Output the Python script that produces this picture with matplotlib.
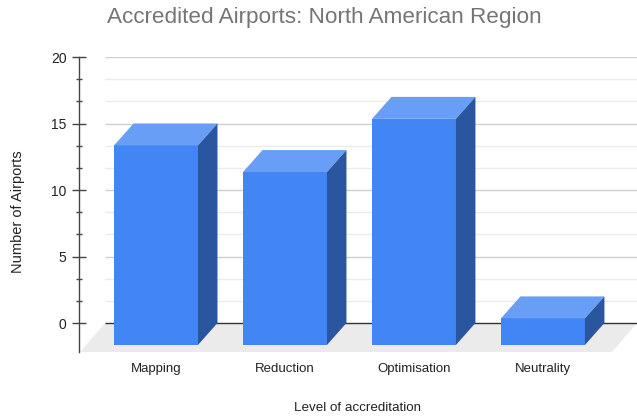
import matplotlib
matplotlib.use("Agg")
import matplotlib.pyplot as plt
from matplotlib.patches import Polygon, Rectangle
from matplotlib.ticker import FixedLocator
import numpy as np

plt.rcParams['font.family'] = ['Liberation Sans', 'DejaVu Sans']

# Data
categories = ["Mapping", "Reduction", "Optimisation", "Neutrality"]
airports = [15, 13, 17, 2]

title = "Accredited Airports: North American Region"
xlabel = "Level of accreditation"
ylabel = "Number of Airports"

# Pseudo-3D geometry (category units horizontally, value units vertically)
bar_w = 0.651          # width of the front face
bar_dx = 0.151         # horizontal depth of a bar
bar_dy = 1.65          # vertical depth of a bar
floor_dx = 0.194       # horizontal depth of the floor
floor_dy = 2.18        # vertical depth of the floor
x_lo, x_hi = -0.597, 3.729
y_lo, y_hi = -2.18, 20

FRONT = "#4285F4"
TOP = "#689EF6"
SIDE = "#2A56A0"

fig = plt.figure(figsize=(6.37, 4.20), dpi=100)
ax = fig.add_axes([79 / 637, 1 - 352 / 420, 1 - 79 / 637, (352 - 57) / 420])
ax.set_xlim(x_lo, x_hi)
ax.set_ylim(y_lo, y_hi)

# Floor
floor = Polygon([(x_lo + 0.008, y_lo), (x_lo + 0.008 + floor_dx, 0),
                 (x_hi, 0), (x_hi - floor_dx, y_lo)],
                closed=True, facecolor="#EBEBEB", edgecolor="none", zorder=1)
ax.add_patch(floor)

# Back-wall gridlines
back_x0 = x_lo + 0.008 + floor_dx
minor_vals = np.arange(0, 20.01, 5 / 3)
for v in minor_vals:
    major = abs(v / 5 - round(v / 5)) < 1e-6
    if abs(v) < 1e-6:
        continue
    ax.hlines(v, back_x0, x_hi, colors="#D0D0D0" if major else "#EBEBEB",
              linewidth=1.0, zorder=0.5)
ax.hlines(0, back_x0, x_hi, colors="#333333", linewidth=1.0, zorder=1.5)

# Bars
for i, v in enumerate(airports):
    fl, fr = i - bar_w / 2, i + bar_w / 2
    fb, ft = -bar_dy, v - bar_dy
    front = Rectangle((fl, fb), bar_w, v, facecolor=FRONT, edgecolor="none", zorder=3)
    top = Polygon([(fl, ft), (fr, ft), (fr + bar_dx, v), (fl + bar_dx, v)],
                  closed=True, facecolor=TOP, edgecolor="none", zorder=3)
    side = Polygon([(fr, ft), (fr + bar_dx, v), (fr + bar_dx, 0), (fr, fb)],
                   closed=True, facecolor=SIDE, edgecolor="none", zorder=3)
    for p in (front, top, side):
        ax.add_patch(p)

# Axes styling
for s in ("top", "right", "bottom"):
    ax.spines[s].set_visible(False)
ax.spines["left"].set_color("#444444")
ax.spines["left"].set_linewidth(1.0)
ax.set_facecolor("none")

ax.set_yticks([0, 5, 10, 15, 20])
ax.yaxis.set_minor_locator(FixedLocator(minor_vals))
ax.tick_params(axis="y", which="major", direction="inout", length=10, width=1.0,
               color="#444444", labelsize=10, labelcolor="#222222", pad=4)
ax.tick_params(axis="y", which="minor", direction="inout", length=5, width=1.0,
               color="#444444")

ax.set_xticks(range(len(categories)))
ax.set_xticklabels(categories)
ax.tick_params(axis="x", length=0, labelsize=9.5, labelcolor="#222222", pad=8)

fig.text(324.5 / 637, 1 - 18 / 420, title, ha="center", va="center",
         fontsize=16.2, color="#757575")
fig.text(18 / 637, 1 - 212 / 420, ylabel, ha="center", va="center",
         rotation=90, fontsize=10.5, color="#222222")
fig.text(358 / 637, 1 - 408 / 420, xlabel, ha="center", va="center",
         fontsize=9.6, color="#222222")

fig.savefig("out.png", dpi=100)
